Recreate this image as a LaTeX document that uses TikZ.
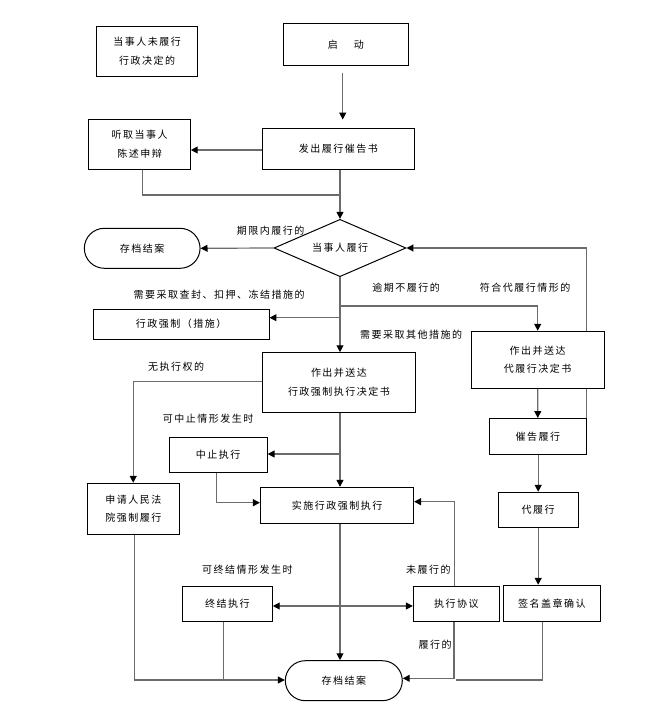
\documentclass[tikz,border=0pt]{standalone}
\usepackage{fontspec}
\setmainfont{Liberation Sans}
\newfontfamily\cjk[LetterSpace=15]{Noto Sans CJK SC}
\usetikzlibrary{arrows.meta,shapes.geometric,backgrounds}
\begin{document}
\begin{tikzpicture}[x=0.75pt,y=-0.75pt,
  txt/.style={font=\cjk\fontsize{7.5pt}{14pt}\selectfont},
  box/.style={txt,draw=black,line width=0.75pt,fill=white,inner sep=0pt,align=center},
  lbl/.style={txt,inner sep=0pt},
  ln/.style={draw=black!58,line width=0.9pt},
  tip/.style={},
  arr/.style={ln,-{Triangle[length=5.2pt,width=5.2pt,color=black]}},
  darr/.style={ln,{Triangle[length=5.2pt,width=5.2pt,color=black]}-{Triangle[length=5.2pt,width=5.2pt,color=black]}},
]
\useasboundingbox (0,0) rectangle (655,713);

% nodes
\node[box,minimum width=75.45pt,minimum height=37.2pt] (n0) at (147,51.5) {当事人未履行\\行政决定的};
\node[box,minimum width=93.75pt,minimum height=31.5pt] (qd) at (345.8,44.3) {启\hspace{12pt}动};
\node[box,minimum width=76.2pt,minimum height=37.5pt] (tq) at (139.5,144.3) {听取当事人\\陈述申辩};
\node[box,minimum width=114pt,minimum height=30.75pt] (fc) at (338.3,148.8) {发出履行催告书};
\node[box,shape=diamond,aspect=2.3,minimum width=99pt,minimum height=43pt] (dsr) at (340,248) {当事人履行};
\node[box,rounded corners=15pt,minimum width=86.8pt,minimum height=30pt] (end1) at (142.2,248.3) {存档结案};
\node[box,minimum width=132pt,minimum height=22.5pt] (qz) at (181,324) {行政强制（措施）};
\node[box,minimum width=114.75pt,minimum height=44.7pt] (zc) at (339,382.5) {作出并送达\\行政强制执行决定书};
\node[box,minimum width=99.5pt,minimum height=42.75pt] (dl) at (537.7,359.8) {作出并送达\\代履行决定书};
\node[box,minimum width=72.75pt,minimum height=26.85pt] (cg) at (537.8,436.4) {催告履行};
\node[box,minimum width=73.35pt,minimum height=26.25pt] (zz) at (218.2,454.8) {中止执行};
\node[box,minimum width=114.9pt,minimum height=27pt] (ss) at (337,505.3) {实施行政强制执行};
\node[box,minimum width=68.85pt,minimum height=38.25pt] (sq) at (133.4,508.8) {申请人民法\\院强制履行};
\node[box,minimum width=60pt,minimum height=26.25pt] (dlx) at (538.2,509.8) {代履行};
\node[box,minimum width=67.5pt,minimum height=26.25pt] (zj) at (227.3,603.8) {终结执行};
\node[box,minimum width=64.5pt,minimum height=26.25pt] (xy) at (456.3,603.8) {执行协议};
\node[box,minimum width=72.75pt,minimum height=27pt] (qm) at (551.8,603.3) {签名盖章确认};
\node[box,rounded corners=15pt,minimum width=87.75pt,minimum height=30pt] (end2) at (343.8,680.7) {存档结案};

% labels
\node[lbl] (l1) at (270.7,230.7) {期限内履行的};
\node[lbl] (l2) at (219,294.3) {需要采取查封、扣押、冻结措施的};
\node[lbl] (l3) at (406,287.7) {逾期不履行的};
\node[lbl] (l4) at (525,287.7) {符合代履行情形的};
\node[lbl] (l5) at (411,334.3) {需要采取其他措施的};
\node[lbl] (l6) at (176,366.7) {无执行权的};
\node[lbl] (l7) at (208,418.3) {可中止情形发生时};
\node[lbl] (l8) at (247.3,569.3) {可终结情形发生时};
\node[lbl] (l9) at (428.3,570) {未履行的};
\node[lbl] (l10) at (435,645) {履行的};

% helper coordinates
\coordinate (cA) at (342.7,0);
\coordinate (r150) at (0,150);
\coordinate (tqx) at (142.3,195);
\coordinate (b306) at (0,306);
\coordinate (b318) at (0,317.7);
\coordinate (zcl) at (133.2,381.7);
\coordinate (b454) at (0,454);
\coordinate (zzx) at (216.4,502.7);
\coordinate (xyx) at (454.6,501.7);
\coordinate (b606) at (0,606);
\coordinate (b680) at (0,680);
\coordinate (sqx) at (134.3,0);
\coordinate (zjx) at (223.3,0);
\coordinate (b678) at (454,678.3);
\coordinate (qmx) at (542.3,0);
\coordinate (qme) at (456,680);

% connectors
\draw[arr,shorten <=5.6pt,shorten >=6.2pt] (qd.south -| cA) -- (fc.north -| cA);
\draw[arr] (r150 -| fc.west) -- (r150 -| tq.east);
\draw[arr] (fc.south -| dsr.north) -- (dsr.north);
\draw[ln] (tq.south -| tqx) |- (tqx -| dsr.north);
\draw[arr] (dsr.west) -- (end1.east);
\draw[arr] (dsr.south) -- (zc.north -| dsr.south);
\draw[arr] (b306 -| dsr.south) -| (dl.north);
\draw[arr] (b318 -| dsr.south) -- (b318 -| qz.east);
\draw[arr] (zcl -| zc.west) -| (sq.north -| zcl);
\draw[arr] (zc.south -| dsr.south) -- (ss.north -| dsr.south);
\draw[arr] (b454 -| dsr.south) -- (b454 -| zz.east);
\draw[arr] (zz.south -| zzx) |- (zzx -| ss.west);
\draw[arr] (xy.north -| xyx) |- (xyx -| ss.east);
\draw[arr] (dl.south) -- (cg.north);
\draw[arr] (cg.south -| dlx.north) -- (dlx.north);
\draw[arr] (dlx.south) -- (dlx.south |- qm.north);
\draw[arr] (ss.south -| dsr.south) -- (end2.north -| dsr.south);
\draw[darr] (b606 -| zj.east) -- (b606 -| xy.west);
\draw[arr] (sq.south -| sqx) |- (b680 -| end2.west);
\draw[ln] (zj.south -| zjx) -- (b680 -| zjx);
\draw[arr] (xy.south -| b678) |- (b678 -| end2.east);
\draw[ln] (qm.south -| qmx) |- (qme);

\begin{pgfonlayer}{background}
\fill[white] (0,0) rectangle (655,713);
\draw[arr] (cg.north east) -- (cg.north east |- dsr.east) -- (dsr.east);
\end{pgfonlayer}
\end{tikzpicture}
\end{document}
